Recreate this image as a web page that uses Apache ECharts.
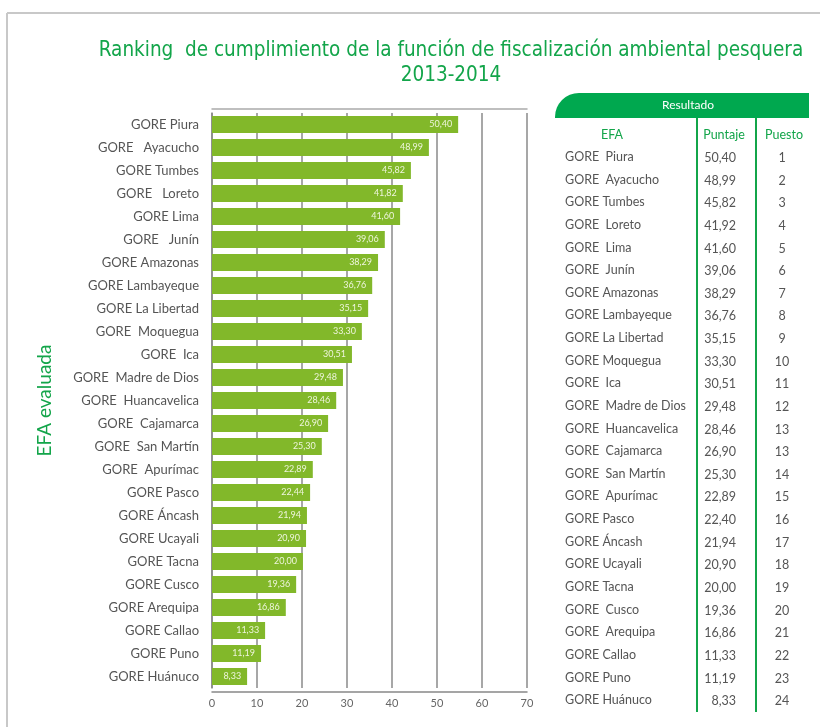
<!DOCTYPE html>
<html><head><meta charset="utf-8">
<script src="https://cdn.jsdelivr.net/npm/echarts@6/dist/echarts.min.js"></script>
<style>html,body{margin:0;padding:0;background:#fff}#c{width:820px;height:727px}</style>
</head><body><div id="c"></div>
<script>
const categories = ["GORE Piura","GORE   Ayacucho","GORE Tumbes","GORE   Loreto","GORE Lima","GORE   Junín","GORE Amazonas","GORE Lambayeque","GORE La Libertad","GORE  Moquegua","GORE  Ica","GORE  Madre de Dios","GORE  Huancavelica","GORE  Cajamarca","GORE  San Martín","GORE  Apurímac","GORE Pasco","GORE Áncash","GORE Ucayali","GORE Tacna","GORE Cusco","GORE Arequipa","GORE Callao","GORE Puno","GORE Huánuco"];
const barValues = [54.7,48.2,44.2,42.4,41.8,38.4,36.9,35.6,34.7,33.3,31.1,29.1,27.6,25.8,24.4,22.4,21.8,21.1,20.9,20.2,18.7,16.4,11.8,10.9,7.8];
const barLabels = ["50,40","48,99","45,82","41,82","41,60","39,06","38,29","36,76","35,15","33,30","30,51","29,48","28,46","26,90","25,30","22,89","22,44","21,94","20,90","20,00","19,36","16,86","11,33","11,19","8,33"];
const xTicks = [0,10,20,30,40,50,60,70];
const tableHeaders = ["EFA","Puntaje","Puesto"];
const tableNames = ["GORE  Piura","GORE  Ayacucho","GORE Tumbes","GORE  Loreto","GORE  Lima","GORE  Junín","GORE Amazonas","GORE Lambayeque","GORE La Libertad","GORE Moquegua","GORE  Ica","GORE  Madre de Dios","GORE  Huancavelica","GORE  Cajamarca","GORE  San Martín","GORE  Apurímac","GORE Pasco","GORE Áncash","GORE Ucayali","GORE Tacna","GORE  Cusco","GORE  Arequipa","GORE Callao","GORE Puno","GORE Huánuco"];
const tableScores = ["50,40","48,99","45,82","41,92","41,60","39,06","38,29","36,76","35,15","33,30","30,51","29,48","28,46","26,90","25,30","22,89","22,40","21,94","20,90","20,00","19,36","16,86","11,33","11,19","8,33"];
const tableRanks = ["1","2","3","4","5","6","7","8","9","10","11","12","13","13","14","15","16","17","18","19","20","21","22","23","24"];

const GREEN = '#13a54a';
const TXT = '#555';
const FONT = 'Lato, "Open Sans", sans-serif';

const graphics = [
  {type:'line', shape:{x1:7,y1:13,x2:820,y2:13}, style:{stroke:'#c8c8c8',lineWidth:2}},
  {type:'line', shape:{x1:7,y1:13,x2:7,y2:727}, style:{stroke:'#c8c8c8',lineWidth:2}},
  {type:'text', x:451, y:38, style:{text:'Ranking  de cumplimiento de la función de fiscalización ambiental pesquera\n2013-2014', fill:GREEN, font:'20.5px "Liberation Sans Narrow", "DejaVu Sans Condensed", sans-serif', align:'center', verticalAlign:'top', lineHeight:25}},
  {type:'rect', shape:{x:555,y:93,width:254,height:25,r:[24,0,0,0]}, style:{fill:'#00a84f'}},
  {type:'text', x:688, y:105.5, style:{text:'Resultado', fill:'#fff', font:'12px '+FONT, align:'center', verticalAlign:'middle'}},
  {type:'line', shape:{x1:697,y1:118,x2:697,y2:712}, style:{stroke:GREEN,lineWidth:2}},
  {type:'line', shape:{x1:756,y1:118,x2:756,y2:712}, style:{stroke:GREEN,lineWidth:2}}
];
const headerX = [612, 724, 784];
tableHeaders.forEach((h,i)=>graphics.push({type:'text', x:headerX[i], y:135, style:{text:h, fill:GREEN, font:'12.5px '+FONT, align:'center', verticalAlign:'middle'}}));
const rowY0 = 157, rowStep = 22.63;
tableNames.forEach((n,i)=>{
  const y = rowY0 + i*rowStep;
  graphics.push({type:'text', x:565, y:y, style:{text:n, fill:TXT, font:'12.5px '+FONT, align:'left', verticalAlign:'middle'}});
  graphics.push({type:'text', x:736, y:y+1, style:{text:tableScores[i], fill:TXT, font:'12.5px '+FONT, align:'right', verticalAlign:'middle'}});
  graphics.push({type:'text', x:782, y:y+1, style:{text:tableRanks[i], fill:TXT, font:'12.5px '+FONT, align:'center', verticalAlign:'middle'}});
});

const chart = echarts.init(document.getElementById('c'));
chart.setOption({
  animation:false,
  backgroundColor:'#fff',
  grid:{left:212, top:113, width:315, height:575, containLabel:false},
  xAxis:[{
    type:'value', min:xTicks[0], max:xTicks[xTicks.length-1], interval:10, position:'bottom', offset:4,
    axisLine:{show:true, lineStyle:{color:'#888',width:1.5}}, axisTick:{show:false},
    axisLabel:{color:'#666', fontSize:11, fontFamily:FONT, margin:6},
    splitLine:{show:true, lineStyle:{color:'#8a8a8a',width:1.5}}
  },{
    type:'value', min:xTicks[0], max:xTicks[xTicks.length-1], interval:10, position:'top', offset:4,
    axisLine:{show:true, lineStyle:{color:'#aaa',width:1.5}}, axisTick:{show:false}, axisLabel:{show:false}, splitLine:{show:false}
  }],
  yAxis:{
    type:'category', data:categories, inverse:true,
    axisLine:{show:true, lineStyle:{color:'#888',width:1.5}}, axisTick:{show:false},
    axisLabel:{color:TXT, fontSize:13, fontFamily:FONT, margin:13},
    name:'EFA evaluada', nameLocation:'middle', nameRotate:90, nameGap:158,
    nameTextStyle:{color:GREEN, fontSize:19, fontFamily:FONT}
  },
  series:[{
    type:'bar', data:barValues, barWidth:17, xAxisIndex:0,
    itemStyle:{color:'#82b82a'},
    label:{show:true, position:'insideRight', distance:6, color:'#eef5dc', fontSize:9, fontFamily:FONT,
      formatter:(p)=>barLabels[p.dataIndex]}
  }],
  graphic:graphics
});
</script></body></html>
